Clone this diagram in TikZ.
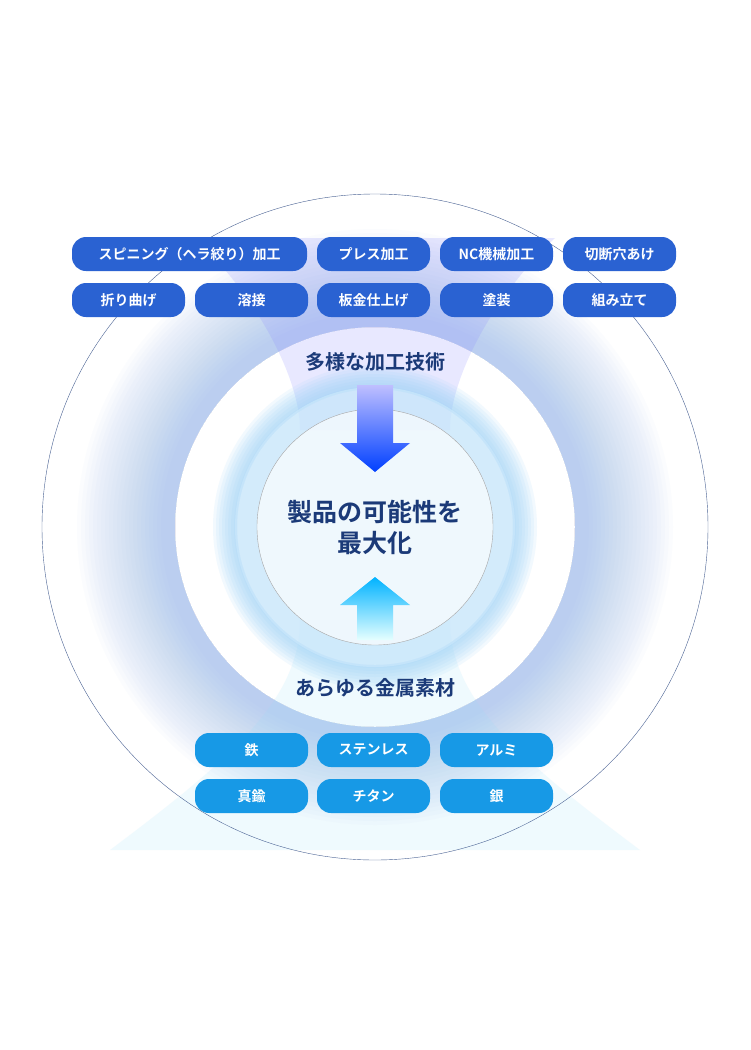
\documentclass[tikz,border=0pt]{standalone}
\usepackage{fontspec}
\setmainfont{Noto Sans CJK JP}
\newfontfamily\jpbold{Noto Sans CJK JP Bold}
\definecolor{navy}{HTML}{1B3A78}
\definecolor{proc}{HTML}{2A62D2}
\definecolor{metal}{HTML}{1799E6}
\definecolor{glow}{HTML}{6E9CF0}
\definecolor{midc}{HTML}{9BD2F8}
\tikzset{
  pill/.style={rounded corners=14pt, minimum height=34pt, minimum width=113pt, inner sep=0pt, text=white, font=\jpbold\fontsize{14}{14}\selectfont},
  proc/.style={pill, fill=proc},
  metal/.style={pill, fill=metal},
  head/.style={text=navy, font=\jpbold\fontsize{20}{20}\selectfont}
}
\begin{document}
\begin{tikzpicture}[x=1pt,y=-1pt]
\useasboundingbox (0,0) rectangle (750,1050);
\fill[white] (0,0) rectangle (750,1050);
\foreach \r in {298,294,...,214}
  \fill[glow, opacity=.025, even odd rule] (375,527) circle[radius=\r] circle[radius=200];
% funnels
\fill[blue!45, opacity=.2] (195,238) .. controls (260,300) and (300,380) .. (300,430) -- (450,430) .. controls (450,380) and (490,300) .. (555,238) -- cycle;
\fill[cyan!40, opacity=.15] (300,620) .. controls (300,700) and (230,760) .. (110,850) -- (640,850) .. controls (520,760) and (450,700) .. (450,620) -- cycle;
\foreach \r in {162,159,...,140}
  \fill[midc, opacity=.12, even odd rule] (375,527) circle[radius=\r] circle[radius=138];
\fill[midc!55, opacity=.8] (375,527) circle[radius=140];
\fill[white, opacity=.65] (375,527) circle[radius=118];
\draw[gray!70] (375,527) circle[radius=118];
\draw[navy!80, thin] (375,527) circle[radius=333];
% arrows
\shade[top color=blue!25, bottom color=blue!75!cyan] (357,385) -- (393,385) -- (393,443) -- (410,443) -- (375,472) -- (340,443) -- (357,443) -- cycle;
\shade[top color=cyan!70!blue, bottom color=cyan!10] (375,577) -- (410,605) -- (393,605) -- (393,640) -- (357,640) -- (357,605) -- (340,605) -- cycle;
\node[text=navy, font=\jpbold\fontsize{25}{31}\selectfont, align=center] (goal) at (375,527) {製品の可能性を\\最大化};
\node[head] (tech) at (375,362) {多様な加工技術};
\node[head] (mat) at (375,688) {あらゆる金属素材};
% processes
\node[proc, minimum width=235pt] (spin) at (189.5,254) {スピニング（ヘラ絞り）加工};
\node[proc] (press) at (373.5,254) {プレス加工};
\node[proc] (nc) at (496.5,254) {NC機械加工};
\node[proc] (cut) at (619.5,254) {切断穴あけ};
\node[proc] (bend) at (128.5,300) {折り曲げ};
\node[proc] (weld) at (251.5,300) {溶接};
\node[proc] (sheet) at (373.5,300) {板金仕上げ};
\node[proc] (paint) at (496.5,300) {塗装};
\node[proc] (asm) at (619.5,300) {組み立て};
% metals
\node[metal] (iron) at (251.5,750) {鉄};
\node[metal] (sus) at (373.5,750) {ステンレス};
\node[metal] (alu) at (496.5,750) {アルミ};
\node[metal] (brass) at (251.5,796) {真鍮};
\node[metal] (ti) at (373.5,796) {チタン};
\node[metal] (ag) at (496.5,796) {銀};
\end{tikzpicture}
\end{document}
